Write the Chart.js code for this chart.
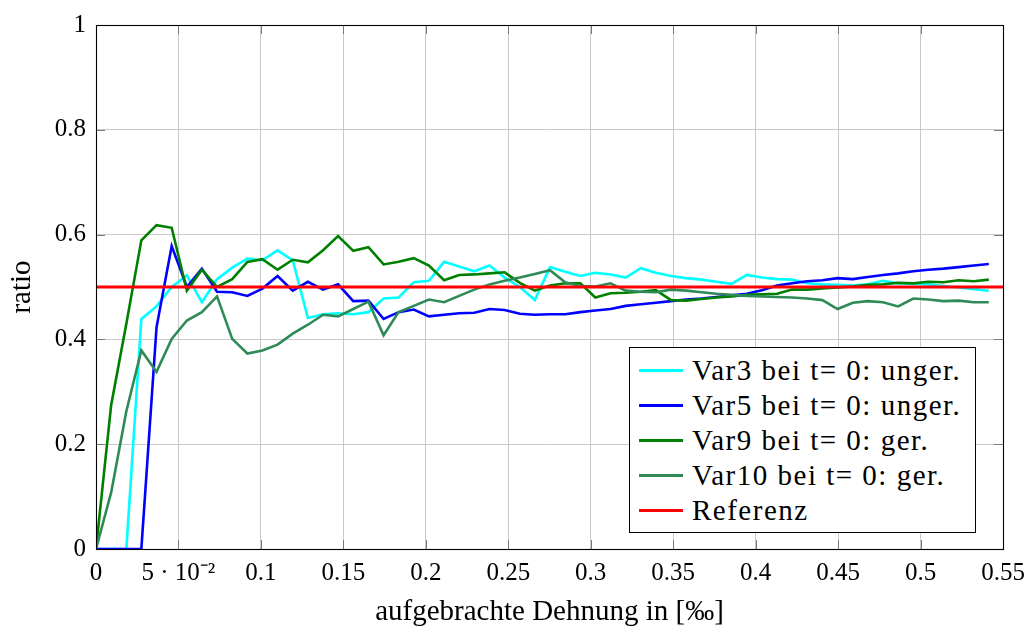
<!DOCTYPE html>
<html>
<head>
<meta charset="utf-8">
<script src="https://cdn.jsdelivr.net/npm/chart.js@4.4.1/dist/chart.umd.min.js"></script>
<style>
  html, body { margin: 0; padding: 0; background: #fff; }
  #wrap { position: relative; width: 1035px; height: 634px; }
  #legend {
    position: absolute; left: 629px; top: 347px; width: 347px; height: 186px;
    box-sizing: border-box; border: 1px solid #000; background: #fff;
    font-family: 'Liberation Serif', serif; font-size: 29px; letter-spacing: 1.5px; color: #000;
  }
  .row { position: absolute; left: 0; height: 35px; display: flex; align-items: center; white-space: nowrap; }
  .swatch { width: 44px; height: 3px; margin-left: 9px; margin-right: 9px; }
</style>
</head>
<body>
<div id="wrap">
  <canvas id="c" width="1035" height="634"></canvas>
  <div id="legend"></div>
</div>
<script>
// applied strain in per mille (x values of every sample)
const strain = [
  0, 0.0092, 0.0184, 0.0275, 0.0367, 0.0459, 0.0551, 0.0642, 0.0734, 0.0826,
  0.0918, 0.1009, 0.1101, 0.1193, 0.1285, 0.1377, 0.1468, 0.1560, 0.1652, 0.1744,
  0.1835, 0.1927, 0.2019, 0.2111, 0.2202, 0.2294, 0.2386, 0.2478, 0.2570, 0.2661,
  0.2753, 0.2845, 0.2937, 0.3028, 0.3120, 0.3212, 0.3304, 0.3395, 0.3487, 0.3579,
  0.3671, 0.3763, 0.3854, 0.3946, 0.4038, 0.4130, 0.4221, 0.4313, 0.4405, 0.4497,
  0.4589, 0.4680, 0.4772, 0.4864, 0.4956, 0.5047, 0.5139, 0.5231, 0.5323, 0.5414
];

const var3 = [
  0, 0, 0, 0.439, 0.463, 0.500, 0.522, 0.471, 0.515, 0.537,
  0.554, 0.551, 0.570, 0.551, 0.441, 0.448, 0.450, 0.448, 0.452, 0.478,
  0.480, 0.509, 0.512, 0.548, 0.539, 0.530, 0.541, 0.518, 0.500, 0.475,
  0.538, 0.529, 0.521, 0.527, 0.524, 0.518, 0.536, 0.527, 0.521, 0.517,
  0.514, 0.510, 0.506, 0.523, 0.518, 0.515, 0.514, 0.507, 0.505, 0.504,
  0.503, 0.505, 0.512, 0.507, 0.506, 0.505, 0.502, 0.499, 0.496, 0.493
];

const var5 = [
  0, 0, 0, 0, 0.423, 0.578, 0.500, 0.535, 0.491, 0.490,
  0.483, 0.497, 0.521, 0.493, 0.510, 0.495, 0.505, 0.473, 0.474, 0.439,
  0.452, 0.457, 0.444, 0.447, 0.450, 0.451, 0.458, 0.456, 0.449, 0.447,
  0.448, 0.448, 0.452, 0.455, 0.458, 0.464, 0.467, 0.470, 0.473, 0.476,
  0.478, 0.481, 0.484, 0.487, 0.494, 0.503, 0.507, 0.511, 0.513, 0.517,
  0.515, 0.519, 0.523, 0.526, 0.530, 0.533, 0.535, 0.538, 0.541, 0.544
];

const var9 = [
  0, 0.275, 0.430, 0.589, 0.618, 0.613, 0.493, 0.533, 0.500, 0.515,
  0.548, 0.553, 0.533, 0.552, 0.547, 0.570, 0.597, 0.569, 0.576, 0.543,
  0.548, 0.555, 0.541, 0.513, 0.523, 0.524, 0.526, 0.528, 0.508, 0.493,
  0.503, 0.507, 0.507, 0.480, 0.488, 0.489, 0.491, 0.494, 0.475, 0.474,
  0.477, 0.480, 0.482, 0.485, 0.486, 0.487, 0.495, 0.495, 0.497, 0.499,
  0.501, 0.504, 0.505, 0.508, 0.507, 0.510, 0.509, 0.513, 0.511, 0.514
];

const var10 = [
  0, 0.108, 0.263, 0.379, 0.338, 0.401, 0.436, 0.452, 0.482, 0.401,
  0.373, 0.379, 0.390, 0.411, 0.428, 0.447, 0.444, 0.458, 0.472, 0.408,
  0.452, 0.464, 0.476, 0.471, 0.483, 0.495, 0.505, 0.512, 0.518, 0.525,
  0.532, 0.509, 0.502, 0.501, 0.507, 0.493, 0.491, 0.490, 0.495, 0.493,
  0.490, 0.487, 0.485, 0.483, 0.482, 0.481, 0.480, 0.478, 0.475, 0.458,
  0.470, 0.473, 0.471, 0.463, 0.478, 0.476, 0.473, 0.474, 0.471, 0.471
];

// reference ratio, drawn across the full strain range
const refStrain = [0, 0.55];
const refRatio = [0.5, 0.5];

const xTickLabels = ['0', '5 · 10⁻²', '0.1', '0.15', '0.2', '0.25', '0.3', '0.35', '0.4', '0.45', '0.5', '0.55'];
const yTickLabels = ['0', '0.2', '0.4', '0.6', '0.8', '1'];

const seriesNames = ['Var3 bei t= 0: unger.', 'Var5 bei t= 0: unger.', 'Var9 bei t= 0: ger.', 'Var10 bei t= 0: ger.', 'Referenz'];
const seriesColors = ['#00ffff', '#0000ff', '#008000', '#2e8b57', '#ff0000'];

const FONT = "'Liberation Serif', serif";

function toPoints(xs, ys) {
  return xs.map((x, i) => ({ x: x, y: ys[i] }));
}

const seriesData = [
  toPoints(strain, var3),
  toPoints(strain, var5),
  toPoints(strain, var9),
  toPoints(strain, var10),
  toPoints(refStrain, refRatio)
];

const datasets = seriesData.map((pts, i) => ({
  label: seriesNames[i],
  data: pts,
  borderColor: seriesColors[i],
  backgroundColor: seriesColors[i],
  borderWidth: i === 4 ? 2.8 : 2.6,
  pointRadius: 0,
  tension: 0,
  fill: false,
  order: 5 - i
}));

// closed axis frame with inward tick marks on all four sides
const framePlugin = {
  id: 'frame',
  beforeDatasetsDraw(chart) {
    const { ctx, chartArea: a, scales } = chart;
    ctx.save();
    ctx.strokeStyle = '#7a7a7a';
    ctx.lineWidth = 1;
    const len = 9;
    scales.x.ticks.forEach((t, i) => {
      const px = Math.round(scales.x.getPixelForTick(i)) + 0.5;
      ctx.beginPath();
      ctx.moveTo(px, a.bottom); ctx.lineTo(px, a.bottom - len);
      ctx.moveTo(px, a.top); ctx.lineTo(px, a.top + len);
      ctx.stroke();
    });
    scales.y.ticks.forEach((t, i) => {
      const py = Math.round(scales.y.getPixelForTick(i)) + 0.5;
      ctx.beginPath();
      ctx.moveTo(a.left, py); ctx.lineTo(a.left + len, py);
      ctx.moveTo(a.right, py); ctx.lineTo(a.right - len, py);
      ctx.stroke();
    });
    ctx.restore();
  },
  afterDraw(chart) {
    const { ctx, chartArea: a } = chart;
    ctx.save();
    ctx.strokeStyle = '#000';
    ctx.lineWidth = 1.1;
    ctx.strokeRect(Math.round(a.left) + 0.5, Math.round(a.top) + 0.5,
                   Math.round(a.right - a.left), Math.round(a.bottom - a.top));
    ctx.restore();
  }
};

const chart = new Chart(document.getElementById('c'), {
  type: 'line',
  data: { datasets: datasets },
  options: {
    responsive: false,
    animation: false,
    devicePixelRatio: 1,
    layout: { padding: { left: 0, right: 32, top: 20, bottom: 0 } },
    plugins: { legend: { display: false }, tooltip: { enabled: false } },
    scales: {
      x: {
        type: 'linear',
        min: 0, max: 0.55,
        afterFit(scale) { scale.height = 85; },
        border: { display: false },
        grid: { color: '#c9c9c9', lineWidth: 1, drawTicks: false },
        ticks: {
          stepSize: 0.05,
          autoSkip: false,
          maxRotation: 0,
          padding: 9,
          color: '#000',
          font: { family: FONT, size: 25 },
          callback: (v, i) => xTickLabels[i]
        },
        title: {
          display: true,
          text: 'aufgebrachte Dehnung in [‰]',
          color: '#000',
          font: { family: FONT, size: 29 },
          padding: { top: 0, bottom: 4 }
        }
      },
      y: {
        type: 'linear',
        min: 0, max: 1,
        afterFit(scale) { scale.width = 96; },
        border: { display: false },
        grid: { color: '#c9c9c9', lineWidth: 1, drawTicks: false },
        ticks: {
          stepSize: 0.2,
          padding: 10,
          color: '#000',
          font: { family: FONT, size: 25 },
          callback: (v, i) => yTickLabels[i]
        },
        title: {
          display: true,
          text: 'ratio',
          color: '#000',
          font: { family: FONT, size: 29 },
          padding: { top: 5, bottom: 0 }
        }
      }
    }
  },
  plugins: [framePlugin]
});

// legend box inside the plot, built from the chart's datasets
const legendEl = document.getElementById('legend');
chart.data.datasets.forEach((ds, k) => {
  const row = document.createElement('div');
  row.className = 'row';
  row.style.top = (5 + 35 * k) + 'px';
  const sw = document.createElement('span');
  sw.className = 'swatch';
  sw.style.background = ds.borderColor;
  const txt = document.createElement('span');
  txt.textContent = ds.label;
  row.appendChild(sw);
  row.appendChild(txt);
  legendEl.appendChild(row);
});
</script>
</body>
</html>
